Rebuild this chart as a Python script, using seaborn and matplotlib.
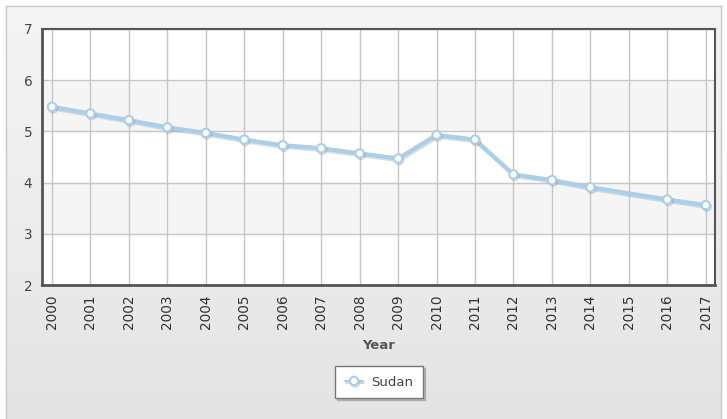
import numpy as np
import pandas as pd
import matplotlib
matplotlib.use("Agg")
import matplotlib.pyplot as plt
import matplotlib.patheffects as pe
import seaborn as sns

years = [2000, 2001, 2002, 2003, 2004, 2005, 2006, 2007, 2008, 2009,
         2010, 2011, 2012, 2013, 2014, 2016, 2017]
values = [5.48, 5.35, 5.22, 5.08, 4.97, 4.84, 4.73, 4.67, 4.57, 4.47,
          4.93, 4.84, 4.16, 4.05, 3.91, 3.67, 3.56]
tick_years = list(range(2000, 2018))
y_ticks = [2, 3, 4, 5, 6, 7]
series_name = "Sudan"
x_label = "Year"

df = pd.DataFrame({"Year": years, "Value": values})

sns.set_theme(style="white")
plt.rcParams["font.family"] = ["DejaVu Sans"]

W, H = 727, 419
fig = plt.figure(figsize=(W / 100, H / 100), dpi=100)
fig.patch.set_facecolor("white")

# background panel with gradient
bg = fig.add_axes([6 / W, 0, (721 - 6) / W, (H - 6) / H])
grad = np.linspace(0, 1, 256).reshape(-1, 1)
bg.imshow(grad, aspect="auto", cmap=matplotlib.colors.LinearSegmentedColormap.from_list(
    "g", ["#f5f5f5", "#e4e4e4"]), extent=[0, 1, 0, 1], origin="upper")
bg.set_xticks([]); bg.set_yticks([])
for s in ["left", "top", "right"]:
    bg.spines[s].set_color("#c8c8c8"); bg.spines[s].set_linewidth(1)
bg.spines["bottom"].set_visible(False)

ax = fig.add_axes([42 / W, (H - 285) / H, (715 - 42) / W, (285 - 29) / H])
ax.set_facecolor("white")
for lo in [3, 5]:
    ax.axhspan(lo, lo + 1, color="#f5f5f5", zorder=0, lw=0)

sns.lineplot(data=df, x="Year", y="Value", ax=ax, color="#a9cfea", linewidth=3,
             marker="o", markersize=6, markerfacecolor="white",
             markeredgecolor="#a9cfea", markeredgewidth=1.5, label=series_name,
             zorder=5)
line = ax.lines[0]
line.set_path_effects([pe.SimpleLineShadow(offset=(0.8, -1.2), shadow_color="#888888", alpha=0.3),
                       pe.Normal()])

ax.set_xlim(2000 - 0.26, 2017 + 0.24)
ax.set_ylim(2, 7)
ax.set_xticks(tick_years)
ax.set_xticklabels([str(y) for y in tick_years], rotation=90, fontsize=9.8, color="#333333")
ax.set_yticks(y_ticks)
ax.set_yticklabels([str(y) for y in y_ticks], fontsize=9.8, color="#444444")
ax.tick_params(axis="x", length=0, pad=7)
ax.tick_params(axis="y", length=0, pad=7)
ax.grid(True, color="#c6c6c6", linewidth=1, zorder=1)
ax.set_axisbelow(True)
for s in ["left", "bottom"]:
    ax.spines[s].set_color("#555555"); ax.spines[s].set_linewidth(2)
for s in ["top", "right"]:
    ax.spines[s].set_color("#555555"); ax.spines[s].set_linewidth(1.5)

ax.set_xlabel(x_label, fontsize=9.5, fontweight="bold", color="#555555", labelpad=7)
ax.set_ylabel("")

leg = ax.legend(loc="center", bbox_to_anchor=(379 / W, 37 / H), bbox_transform=fig.transFigure,
                fancybox=False, shadow={"ox": 1.5, "oy": -1.5, "color": "#999999", "alpha": 0.6},
                frameon=True, fontsize=9.5,
                handlelength=1.4, borderpad=0.55, handletextpad=0.6, borderaxespad=0)
leg.get_frame().set_edgecolor("#777777")
leg.get_frame().set_linewidth(1)
for t in leg.get_texts():
    t.set_color("#444444")
for h in leg.legend_handles:
    h.set_linewidth(1.5)

fig.canvas.draw()
leg.get_frame().set_boxstyle("square", pad=0.2)

fig.savefig("out.png", dpi=100)
